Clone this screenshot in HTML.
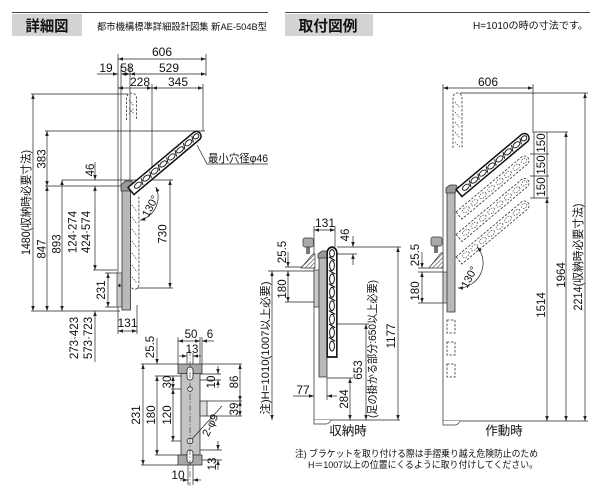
<!DOCTYPE html>
<html><head><meta charset="utf-8">
<style>
html,body{margin:0;padding:0;background:#fff;width:600px;height:486px;overflow:hidden}
svg{display:block}
text{font-family:"Liberation Sans","Noto Sans CJK JP",sans-serif;fill:#111}
.d{stroke:#222;stroke-width:.7;fill:none}
.m{marker-start:url(#a);marker-end:url(#a)}
.e{marker-end:url(#a)}
.n{font-size:12px;text-anchor:middle}
.r{font-size:11.5px;text-anchor:middle}
.g{fill:#b9b9b9;stroke:#333;stroke-width:.8}
.dash{fill:none;stroke:#333;stroke-width:.8;stroke-dasharray:2.5 1.5}
</style></head><body>
<svg width="600" height="486" viewBox="0 0 600 486" xmlns="http://www.w3.org/2000/svg">
<defs>
<marker id="a" viewBox="0 0 10 10" refX="10" refY="5" markerWidth="6" markerHeight="5" markerUnits="userSpaceOnUse" orient="auto-start-reverse"><path d="M0,1.5L10,5L0,8.5z" fill="#222"/></marker>
<pattern id="h" width="3" height="3" patternUnits="userSpaceOnUse" patternTransform="rotate(45)"><rect width="3" height="3" fill="#fff"/><line x1="0" y1="0" x2="0" y2="3" stroke="#333" stroke-width="1.1"/></pattern>
<g id="arm">
<path d="M0,-4.6H85.4A4.6,4.6 0 0 1 85.4,4.6H0Z" fill="#fff" stroke="#111" stroke-width="1.5"/>
<g fill="#fff" stroke="#111" stroke-width=".9">
<ellipse cx="9" cy="0" rx="4" ry="2.3"/><ellipse cx="20" cy="0" rx="4" ry="2.3"/><ellipse cx="31" cy="0" rx="4" ry="2.3"/><ellipse cx="42" cy="0" rx="4" ry="2.3"/><ellipse cx="53" cy="0" rx="4" ry="2.3"/><ellipse cx="64" cy="0" rx="4" ry="2.3"/><ellipse cx="75" cy="0" rx="4" ry="2.3"/><ellipse cx="85" cy="0" rx="3" ry="2.3"/>
</g>
<path d="M13,3L16,-3M24,3L27,-3M35,3L38,-3M46,3L49,-3M57,3L60,-3M68,3L71,-3M79,3L82,-3" stroke="#111" stroke-width="1"/>
</g>
<g id="armd">
<path d="M0,-4.6H85.4A4.6,4.6 0 0 1 85.4,4.6H0Z" fill="none" stroke="#333" stroke-width=".8" stroke-dasharray="2.5 1.5"/>
<g fill="none" stroke="#444" stroke-width=".7" stroke-dasharray="1.5 1.2">
<ellipse cx="9" cy="0" rx="4" ry="2.3"/><ellipse cx="20" cy="0" rx="4" ry="2.3"/><ellipse cx="31" cy="0" rx="4" ry="2.3"/><ellipse cx="42" cy="0" rx="4" ry="2.3"/><ellipse cx="53" cy="0" rx="4" ry="2.3"/><ellipse cx="64" cy="0" rx="4" ry="2.3"/><ellipse cx="75" cy="0" rx="4" ry="2.3"/><ellipse cx="85" cy="0" rx="3" ry="2.3"/>
</g>
</g>
</defs>

<!-- ===== headers ===== -->
<line x1="12" y1="12.5" x2="268" y2="12.5" stroke="#444" stroke-width="1"/>
<rect x="12" y="14" width="70" height="22" fill="#d3d3d3"/>
<text x="47" y="31" font-size="15" font-weight="bold" text-anchor="middle" textLength="43" lengthAdjust="spacingAndGlyphs">詳細図</text>
<text x="97" y="30" font-size="9.5" textLength="170" lengthAdjust="spacingAndGlyphs">都市機構標準詳細設計図集 新AE-504B型</text>

<line x1="285" y1="12.5" x2="590" y2="12.5" stroke="#444" stroke-width="1"/>
<rect x="285" y="14" width="88" height="22" fill="#d3d3d3"/>
<text x="328" y="31" font-size="15" font-weight="bold" text-anchor="middle" textLength="59" lengthAdjust="spacingAndGlyphs">取付図例</text>
<text x="473" y="29" font-size="10" textLength="115" lengthAdjust="spacingAndGlyphs">H=1010の時の寸法です。</text>

<!-- ===== LEFT DETAIL ===== -->
<!-- extension lines -->
<path class="d" d="M118,54V334M121,65V186M130,65V182M152,84V167M206,54V76M203,84V131M137,305V334"/>
<path class="d" d="M31,94H128M45,131H205M62,180H173M45,186H122M93,270H117M105,273H118M105,307H118M31,311H120M137,288H173"/>
<!-- top dims -->
<path class="d m" d="M118,59H206"/>
<text class="n" x="162" y="56">606</text>
<path class="d e" d="M97,74H118"/>
<path class="d m" d="M121,74H130"/>
<path class="d m" d="M130,74H206"/>
<text class="n" x="106" y="72">19</text>
<text class="n" x="127" y="72">58</text>
<text class="n" x="169" y="72">529</text>
<path class="d m" d="M118,88H152"/>
<path class="d m" d="M152,88H203"/>
<text class="n" x="140" y="86">228</text>
<text class="n" x="178" y="86">345</text>
<!-- vertical dims -->
<path class="d m" d="M33,94V311"/>
<text class="r" transform="translate(26,202.5) rotate(-90)" dy=".36em" textLength="105" lengthAdjust="spacingAndGlyphs">1480(収納時必要寸法)</text>
<path class="d m" d="M47,131V186"/>
<text class="r" transform="translate(41.5,159) rotate(-90)" dy=".36em">383</text>
<path class="d m" d="M47,186V311"/>
<text class="r" transform="translate(41.5,249) rotate(-90)" dy=".36em">847</text>
<path class="d m" d="M62,180V311"/>
<text class="r" transform="translate(56.5,244) rotate(-90)" dy=".36em">893</text>
<path class="d e" d="M95,162V180"/>
<text class="r" transform="translate(90,170) rotate(-90)" dy=".36em">46</text>
<path class="d m" d="M95,186V270"/>
<text class="r" transform="translate(72.5,232) rotate(-90)" dy=".36em">124·274</text>
<text class="r" transform="translate(86,232) rotate(-90)" dy=".36em">424·574</text>
<path class="d m" d="M108,273V307"/>
<text class="r" transform="translate(101,290) rotate(-90)" dy=".36em">231</text>
<path class="d" d="M95,311V362" marker-start="url(#a)"/>
<text class="r" transform="translate(74,338) rotate(-90)" dy=".36em">273·423</text>
<text class="r" transform="translate(88,338) rotate(-90)" dy=".36em">573·723</text>
<path class="d m" d="M118,331H137"/>
<text class="n" x="127.5" y="327">131</text>
<path class="d m" d="M170,180V288"/>
<text class="r" transform="translate(162.5,234) rotate(-90)" dy=".36em">730</text>

<!-- bracket -->
<rect x="117" y="273" width="5" height="34" fill="#c8c8c8" stroke="#333" stroke-width=".7"/>
<rect x="118.5" y="284" width="2" height="3" fill="#222"/>
<rect class="g" x="122" y="189" width="8.5" height="121"/>
<polygon points="121,191 121,185 125,181 132,181 134,185 131,191" fill="#999" stroke="#333" stroke-width=".8"/>
<!-- dashed upright arm -->
<path class="dash" d="M126.5,120V98A5,5 0 0 1 136.5,98V120"/>
<path d="M129,100L134,106M129,108L134,114M129,114L134,108" fill="none" stroke="#444" stroke-width=".7" stroke-dasharray="1.5 1.2"/>
<!-- dashed folded arm -->
<path class="dash" d="M130.5,196V285A4.2,4.2 0 0 0 138.9,285V196"/>
<path d="M132,205L137,212M132,217L137,224M132,229L137,236M132,241L137,248M132,253L137,260M132,265L137,272M132,277L137,283" fill="none" stroke="#444" stroke-width=".7" stroke-dasharray="1.5 1.2"/>
<!-- active arm -->
<use href="#arm" transform="translate(131,191) rotate(-40)"/>
<!-- 130 arc -->
<path class="d m" d="M155.8,186.9A24,24 0 0 1 140.2,220.2"/>
<text font-size="11" text-anchor="middle" transform="translate(150,206) rotate(-62)" dy=".36em">130°</text>
<!-- label -->
<path class="d" d="M197,145L207,164H268"/>
<text x="208" y="162" font-size="11" textLength="60" lengthAdjust="spacingAndGlyphs">最小穴径φ46</text>

<!-- ===== BOTTOM-LEFT PLATE DETAIL ===== -->
<path class="d" d="M178,337V364M200,337V373M202,337V364M187,353V368M193,353V368"/>
<path class="d m" d="M178,341H200"/>
<path class="d e" d="M214,341H202"/>
<text font-size="11.5" text-anchor="middle" x="191" y="338">50</text>
<text font-size="11.5" text-anchor="middle" x="210" y="338">6</text>
<path class="d e" d="M179,356H187"/>
<path class="d e" d="M201,356H193"/>
<text font-size="11.5" text-anchor="middle" x="192" y="353">13</text>
<path class="d" d="M141,364H178M155,376H187M171,389H187M171,441H187M155,455H187M141,465H178"/>
<path class="d" d="M202,364H242M207,401H242M207,416H242M200,374H221M200,380H221M195,450H222M195,460H222M188,462V485M193,462V485"/>
<path class="d m" d="M143,364V465"/>
<text class="r" transform="translate(136,415) rotate(-90)" dy=".36em">231</text>
<path class="d e" d="M157,338V364"/>
<text class="r" transform="translate(150,347) rotate(-90)" dy=".36em">25.5</text>
<path class="d m" d="M157,376V455"/>
<text class="r" transform="translate(151,415) rotate(-90)" dy=".36em">180</text>
<path class="d m" d="M173,376V389"/>
<text class="r" transform="translate(167,382) rotate(-90)" dy=".36em">30</text>
<path class="d m" d="M173,389V441"/>
<text class="r" transform="translate(167,415) rotate(-90)" dy=".36em">120</text>
<path class="d m" d="M240,364V401"/>
<text class="r" transform="translate(234,382) rotate(-90)" dy=".36em">86</text>
<path class="d m" d="M240,401V416"/>
<text class="r" transform="translate(234,409) rotate(-90)" dy=".36em">39</text>
<path class="d e" d="M218,366V374"/>
<path class="d e" d="M218,388V380"/>
<text class="r" transform="translate(211,382) rotate(-90)" dy=".36em">10</text>
<path class="d e" d="M218,441V450"/>
<path class="d e" d="M218,470V460"/>
<text class="r" transform="translate(212,464) rotate(-90)" dy=".36em">13</text>
<path class="d e" d="M180,480H188"/>
<path class="d e" d="M201,480H193"/>
<text class="n" x="178" y="479" font-size="11.5">10</text>
<!-- plate body -->
<rect x="181" y="373" width="19" height="82" fill="#c4c4c4" stroke="#333" stroke-width=".8"/>
<rect x="178" y="364" width="24" height="9.5" fill="#a9a9a9" stroke="#333" stroke-width=".8"/>
<rect x="178" y="455" width="24" height="10" fill="#a9a9a9" stroke="#333" stroke-width=".8"/>
<rect x="200" y="401" width="7" height="15" fill="#ddd" stroke="#333" stroke-width=".8"/>
<rect x="187" y="367" width="6" height="13" rx="3" fill="#fff" stroke="#222" stroke-width=".8"/>
<rect x="187" y="450" width="6" height="13" rx="3" fill="#fff" stroke="#222" stroke-width=".8"/>
<circle cx="190" cy="389" r="2.3" fill="#fff" stroke="#222" stroke-width=".8"/>
<circle cx="190" cy="441" r="2.8" fill="#fff" stroke="#222" stroke-width=".8"/>
<path d="M190,350V486" stroke="#333" stroke-width=".6" stroke-dasharray="6 2 1 2"/>
<path class="d" d="M222,406L192,439"/>
<text font-size="11" text-anchor="middle" transform="translate(210,425) rotate(-64)" dy=".36em">2-φ9</text>

<!-- ===== MIDDLE 収納時 ===== -->
<path class="d" d="M314,226V420H400M335,226V247M337,247H401M330,254H357M336,324H369M327,378H353M327,378V400M268,271H315M285,302H315M285,267H302"/>
<path d="M314,420V424H326Q329,424 331,420" fill="#fff" stroke="#333" stroke-width=".7"/>
<path class="d m" d="M314,230H335"/>
<text class="n" x="325" y="227">131</text>
<path class="d e" d="M353,236V247"/>
<path class="d e" d="M353,265V254"/>
<text class="r" transform="translate(345,235) rotate(-90)" dy=".36em">46</text>
<path class="d e" d="M288,252V267"/>
<text class="r" transform="translate(282,252) rotate(-90)" dy=".36em">25.5</text>
<path class="d m" d="M288,271V302"/>
<text class="r" transform="translate(282,289) rotate(-90)" dy=".36em">180</text>
<path class="d m" d="M272,271V420"/>
<text font-size="11" text-anchor="middle" transform="translate(265,348) rotate(-90)" dy=".36em" textLength="133" lengthAdjust="spacingAndGlyphs">注)H=1010(1007以上必要)</text>
<path class="d e" d="M293,396H314"/>
<path class="d e" d="M337,396H327"/>
<text class="n" x="303" y="394">77</text>
<path class="d m" d="M350,378V420"/>
<text class="r" transform="translate(344,399) rotate(-90)" dy=".36em">284</text>
<path class="d m" d="M366,324V420"/>
<text class="r" transform="translate(358,370) rotate(-90)" dy=".36em">653</text>
<text font-size="11" text-anchor="middle" transform="translate(372,349) rotate(-90)" dy=".36em" textLength="138" lengthAdjust="spacingAndGlyphs">(足の掛かる部分:650以上必要)</text>
<path class="d m" d="M398,247V420"/>
<text class="r" transform="translate(391,336) rotate(-90)" dy=".36em">1177</text>
<!-- handrail icon -->
<polygon points="301,268 313,254 315,254 315,268" fill="url(#h)" stroke="#333" stroke-width=".7"/>
<rect x="306" y="246" width="4" height="8" fill="#777"/>
<rect x="303" y="238" width="10.5" height="9" rx="2" fill="#aaa" stroke="#333" stroke-width=".7"/>
<!-- plate/bracket/arm -->
<rect x="314" y="270" width="5" height="37" fill="#c8c8c8" stroke="#333" stroke-width=".7"/>
<rect class="g" x="319" y="256" width="8" height="121"/>
<polygon points="318,258 318,254 322,251 328,251 330,254 327,258" fill="#999" stroke="#333" stroke-width=".8"/>
<use href="#arm" transform="translate(332,357) rotate(-90) scale(1.22,1.05)"/>
<text x="348" y="435" font-size="12.5" text-anchor="middle">収納時</text>

<!-- ===== RIGHT 作動時 ===== -->
<path class="d" d="M443,84V421H588M533,84V131M460,93H588M532,132H568M530,154H549M530,176H549M530,198H549M534,132V198M418,272H443M418,303H443M418,268H430"/>
<path d="M443,421V425H455Q458,425 460,421" fill="#fff" stroke="#333" stroke-width=".7"/>
<path class="d m" d="M443,88H533"/>
<text class="n" x="488" y="86">606</text>
<path class="d" d="M547,132V198"/>
<text class="r" transform="translate(541,143) rotate(-90)" dy=".36em">150</text>
<text class="r" transform="translate(541,165) rotate(-90)" dy=".36em">150</text>
<text class="r" transform="translate(541,187) rotate(-90)" dy=".36em">150</text>
<path class="d m" d="M547,198V421"/>
<text class="r" transform="translate(541,305) rotate(-90)" dy=".36em">1514</text>
<path class="d m" d="M566,132V421"/>
<text class="r" transform="translate(561,275) rotate(-90)" dy=".36em">1964</text>
<path class="d m" d="M585,93V421"/>
<text class="r" transform="translate(578,257) rotate(-90)" dy=".36em" textLength="107" lengthAdjust="spacingAndGlyphs">2214(収納時必要寸法)</text>
<path class="d e" d="M422,252V268"/>
<text class="r" transform="translate(415,255) rotate(-90)" dy=".36em">25.5</text>
<path class="d m" d="M422,272V303"/>
<text class="r" transform="translate(415,291) rotate(-90)" dy=".36em">180</text>
<!-- handrail icon -->
<polygon points="429,268 441,253 443,253 443,268" fill="url(#h)" stroke="#333" stroke-width=".7"/>
<rect x="434" y="245" width="4" height="8" fill="#777"/>
<rect x="431" y="237" width="11" height="9" rx="2" fill="#aaa" stroke="#333" stroke-width=".7"/>
<!-- plate/bracket -->
<rect x="443" y="272" width="4.5" height="31" fill="#c8c8c8" stroke="#333" stroke-width=".7"/>
<rect class="g" x="447" y="191" width="8" height="121"/>
<polygon points="446,193 446,188 450,185 456,185 458,188 455,193" fill="#999" stroke="#333" stroke-width=".8"/>
<!-- upright dashed arm -->
<path class="dash" d="M453,148V97.5A4.5,4.5 0 0 1 462,97.5V148"/>
<path d="M455,102L460,108M455,112L460,118M455,122L460,128M455,132L460,138M455,142L460,147" fill="none" stroke="#444" stroke-width=".7" stroke-dasharray="1.5 1.2"/>
<!-- folded dashed parts -->
<rect class="dash" x="447" y="320" width="8" height="13"/>
<rect class="dash" x="447" y="342" width="8" height="13"/>
<rect class="dash" x="447" y="364" width="8" height="13"/>
<!-- arms -->
<use href="#armd" transform="translate(459,260.5) rotate(-40)"/>
<use href="#armd" transform="translate(459,238) rotate(-40)"/>
<use href="#armd" transform="translate(459,215.5) rotate(-40)"/>
<use href="#arm" transform="translate(459,193) rotate(-40)"/>
<!-- 130 arc -->
<path class="d m" d="M477.2,246.9A25,25 0 0 1 458,288"/>
<text font-size="11" text-anchor="middle" transform="translate(469,277) rotate(-62)" dy=".36em">130°</text>
<text x="504" y="435" font-size="12.5" text-anchor="middle">作動時</text>

<!-- notes -->
<text x="295" y="457" font-size="9.5" textLength="243" lengthAdjust="spacingAndGlyphs">注) ブラケットを取り付ける際は手摺乗り越え危険防止のため</text>
<text x="308" y="468" font-size="9.5" textLength="230" lengthAdjust="spacingAndGlyphs">H＝1007以上の位置にくるように取り付けしてください。</text>
</svg>
</body></html>
